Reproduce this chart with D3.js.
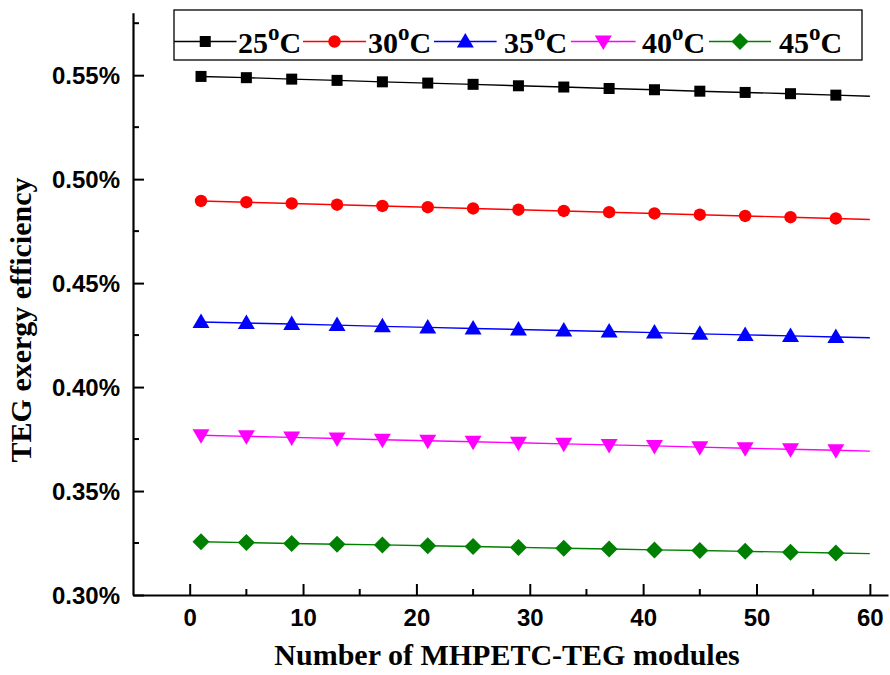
<!DOCTYPE html>
<html>
<head>
<meta charset="utf-8">
<script src="https://cdn.jsdelivr.net/npm/d3@7"></script>
<style>
  html, body { margin: 0; padding: 0; background: #fff; }
  svg { display: block; }
</style>
</head>
<body>
<svg id="chart" width="890" height="675"></svg>
<script>
// Number of modules at which the markers are drawn
const modules = [1, 5, 9, 13, 17, 21, 25, 29, 33, 37, 41, 45, 49, 53, 57];
// Last point of each curve (line continues past the final marker)
const endModule = 60;

// TEG exergy efficiency (%) per ambient temperature
const eff25 = [0.5494, 0.5488, 0.5481, 0.5475, 0.5468, 0.5462, 0.5456, 0.5449, 0.5443, 0.5436, 0.5430, 0.5423, 0.5417, 0.5411, 0.5404];
const eff30 = [0.4895, 0.4889, 0.4883, 0.4877, 0.4871, 0.4865, 0.4859, 0.4853, 0.4847, 0.4841, 0.4835, 0.4829, 0.4823, 0.4817, 0.4811];
const eff35 = [0.4313, 0.4308, 0.4303, 0.4298, 0.4292, 0.4287, 0.4282, 0.4277, 0.4272, 0.4267, 0.4262, 0.4256, 0.4251, 0.4246, 0.4241];
const eff40 = [0.3768, 0.3763, 0.3758, 0.3753, 0.3747, 0.3742, 0.3737, 0.3732, 0.3727, 0.3722, 0.3717, 0.3711, 0.3706, 0.3701, 0.3696];
const eff45 = [0.3256, 0.3252, 0.3248, 0.3244, 0.3241, 0.3237, 0.3233, 0.3229, 0.3225, 0.3221, 0.3217, 0.3214, 0.3210, 0.3206, 0.3202];
const endValues = [0.5399, 0.4806, 0.4237, 0.3692, 0.3199];

const seriesNames = ["25", "30", "35", "40", "45"];
const xTicks = [0, 10, 20, 30, 40, 50, 60];
const yTicks = [0.30, 0.35, 0.40, 0.45, 0.50, 0.55];

const colors = ["#000000", "#ff0000", "#0000ff", "#ff00ff", "#008000"];
const shapes = ["square", "circle", "triangleUp", "triangleDown", "diamond"];

const svg = d3.select("#chart");
const plotLeft = 133, plotRight = 888, plotTop = 12.8, plotBottom = 595;
const sansFont = "Liberation Sans, Arial, sans-serif";
const serifFont = "Liberation Serif, Times New Roman, serif";

const x = d3.scaleLinear().domain([-5, 61.6]).range([plotLeft, plotRight]);
const y = d3.scaleLinear().domain([0.30, 0.58]).range([plotBottom, plotTop]);

const seriesVals = [eff25, eff30, eff35, eff40, eff45];
const series = seriesNames.map((name, i) => ({
  name,
  color: colors[i],
  shape: shapes[i],
  points: modules.map((m, j) => ({ x: m, y: seriesVals[i][j] })),
  line: modules.map((m, j) => ({ x: m, y: seriesVals[i][j] })).concat([{ x: endModule, y: endValues[i] }])
}));

// Marker drawing
function drawMarker(g, shape, color, cx, cy) {
  if (shape === "square") {
    g.append("rect").attr("x", cx - 5.5).attr("y", cy - 5.5).attr("width", 11).attr("height", 11).attr("fill", color);
  } else if (shape === "circle") {
    g.append("circle").attr("cx", cx).attr("cy", cy).attr("r", 6.2).attr("fill", color);
  } else if (shape === "triangleUp") {
    g.append("path").attr("d", `M${cx},${cy - 8.5}L${cx + 8.5},${cy + 6}L${cx - 8.5},${cy + 6}Z`).attr("fill", color);
  } else if (shape === "triangleDown") {
    g.append("path").attr("d", `M${cx},${cy + 8.5}L${cx + 8.5},${cy - 6}L${cx - 8.5},${cy - 6}Z`).attr("fill", color);
  } else if (shape === "diamond") {
    g.append("path").attr("d", `M${cx},${cy - 8.5}L${cx + 8.5},${cy}L${cx},${cy + 8.5}L${cx - 8.5},${cy}Z`).attr("fill", color);
  }
}

// Series lines and markers
const line = d3.line().x(d => x(d.x)).y(d => y(d.y));
series.forEach(s => {
  svg.append("path").datum(s.line).attr("d", line)
    .attr("fill", "none").attr("stroke", s.color).attr("stroke-width", 1.4);
  const g = svg.append("g");
  s.points.forEach(p => drawMarker(g, s.shape, s.color, x(p.x), y(p.y)));
});

// Axes (ticks pointing inward)
const xAxis = d3.axisBottom(x).tickValues(xTicks).tickSizeInner(-11).tickSizeOuter(0).tickFormat(d3.format("d"));
const gx = svg.append("g").attr("transform", `translate(0,${plotBottom})`).call(xAxis);
gx.select(".domain").attr("stroke-width", 2.2);
gx.selectAll(".tick line").attr("stroke-width", 2);
gx.selectAll(".tick text").attr("dy", 0).attr("y", 31)
  .attr("font-family", sansFont).attr("font-weight", "bold").attr("font-size", 24).attr("fill", "#000");

const xMinor = d3.range(5, 60, 10);
svg.append("g").selectAll("line").data(xMinor).join("line")
  .attr("x1", d => x(d)).attr("x2", d => x(d)).attr("y1", plotBottom).attr("y2", plotBottom - 6)
  .attr("stroke", "#000").attr("stroke-width", 2);

const yAxis = d3.axisLeft(y).tickValues(yTicks).tickSizeInner(-11).tickSizeOuter(0).tickFormat(d => d.toFixed(2) + "%");
const gy = svg.append("g").attr("transform", `translate(${plotLeft},0)`).call(yAxis);
gy.select(".domain").attr("stroke-width", 2.2);
gy.selectAll(".tick line").attr("stroke-width", 2);
gy.selectAll(".tick text").attr("x", -13).attr("dy", "0.36em")
  .attr("font-family", sansFont).attr("font-weight", "bold").attr("font-size", 24).attr("fill", "#000");

const yMinor = [0.325, 0.375, 0.425, 0.475, 0.525, 0.575];
svg.append("g").selectAll("line").data(yMinor).join("line")
  .attr("x1", plotLeft).attr("x2", plotLeft + 6).attr("y1", d => y(d)).attr("y2", d => y(d))
  .attr("stroke", "#000").attr("stroke-width", 2);

// Axis titles
svg.append("text").attr("x", 507).attr("y", 665).attr("text-anchor", "middle")
  .attr("font-family", serifFont).attr("font-weight", "bold").attr("font-size", 30)
  .text("Number of MHPETC-TEG modules");
svg.append("text").attr("transform", "translate(31,320) rotate(-90)").attr("text-anchor", "middle")
  .attr("font-family", serifFont).attr("font-weight", "bold").attr("font-size", 30)
  .text("TEG exergy efficiency");

// Legend
const legend = svg.append("g");
legend.append("rect").attr("x", 174).attr("y", 10).attr("width", 688).attr("height", 50)
  .attr("fill", "#fff").attr("stroke", "#000").attr("stroke-width", 1.3);
const lineStarts = [174, 303, 434, 571, 709];
const lineEnds = [236.5, 366, 496.6, 635.6, 771];
const textStarts = [238, 368, 504, 642, 779];
series.forEach((s, i) => {
  const x0 = lineStarts[i], x1 = lineEnds[i];
  const cy = 41.5;
  legend.append("line").attr("x1", x0).attr("x2", x1).attr("y1", cy).attr("y2", cy)
    .attr("stroke", s.color).attr("stroke-width", 1.4);
  drawMarker(legend, s.shape, s.color, (x0 + x1) / 2, cy);
  const t = legend.append("text").attr("x", textStarts[i]).attr("y", 52.5)
    .attr("font-family", serifFont).attr("font-weight", "bold").attr("font-size", 30);
  t.append("tspan").text(s.name);
  t.append("tspan").attr("font-size", 23).attr("dy", -13).text("o");
  t.append("tspan").attr("dy", 13).text("C");
});
</script>
</body>
</html>
